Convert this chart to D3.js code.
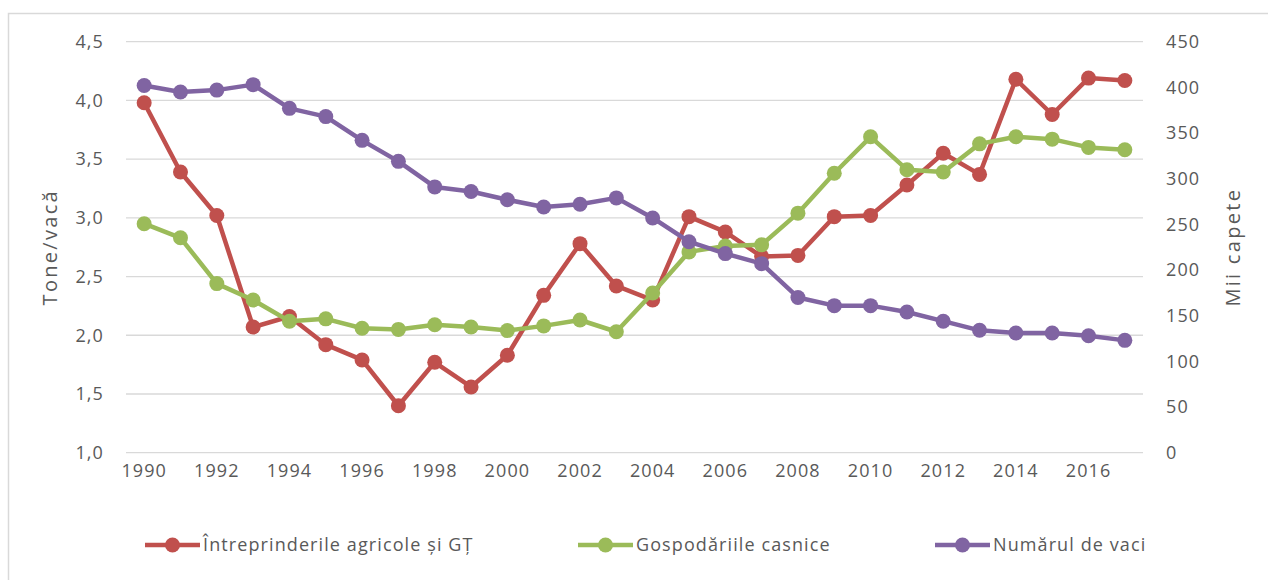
<!DOCTYPE html>
<html>
<head>
<meta charset="utf-8">
<script src="https://cdn.jsdelivr.net/npm/d3@7"></script>
<style>
  body { margin: 0; background: #fff; }
  text { font-family: "Open Sans", sans-serif; fill: #595959; }
</style>
</head>
<body>
<div id="viz"></div>
<script>
const years = d3.range(1990, 2018)
const xTickYears = d3.range(1990, 2017, 2)
const leftTicks = [1, 1.5, 2, 2.5, 3, 3.5, 4, 4.5]
const rightTicks = [0, 50, 100, 150, 200, 250, 300, 350, 400, 450]

// tone/vaca
const intreprinderi = [3.98, 3.39, 3.02, 2.07, 2.16, 1.92, 1.79, 1.40, 1.77, 1.56,
  1.83, 2.34, 2.78, 2.42, 2.30, 3.01, 2.88, 2.67, 2.68, 3.01,
  3.02, 3.28, 3.55, 3.37, 4.18, 3.88, 4.19, 4.17]
const gospodarii = [2.95, 2.83, 2.44, 2.30, 2.12, 2.14, 2.06, 2.05, 2.09, 2.07,
  2.04, 2.08, 2.13, 2.03, 2.36, 2.71, 2.76, 2.77, 3.04, 3.38,
  3.69, 3.41, 3.39, 3.63, 3.69, 3.67, 3.60, 3.58]
// mii capete
const vaci = [402, 395, 397, 403, 377, 368, 342, 319, 291, 286,
  277, 269, 272, 279, 257, 231, 218, 207, 170, 161,
  161, 154, 144, 134, 131, 131, 128, 123]

const seriesNames = ["Întreprinderile agricole și GȚ", "Gospodăriile casnice", "Numărul de vaci"]
const colors = ["#c0504d", "#9bbb59", "#8064a2"]

const width = 1268
const height = 580
const plotLeft = 126, plotRight = 1143, plotTop = 41.7, plotBottom = 452.7

const svg = d3.select("#viz").append("svg")
  .attr("width", width)
  .attr("height", height)

// chart frame
svg.append("rect")
  .attr("x", 8.5).attr("y", 13.5)
  .attr("width", 1300).attr("height", 600)
  .attr("fill", "none")
  .attr("stroke", "#d9d9d9")
  .attr("stroke-width", 1.5)

const xScale = d3.scaleBand().domain(years).range([plotLeft, plotRight])
const xPos = d => xScale(d) + xScale.bandwidth() / 2
const yLeft = d3.scaleLinear().domain([1, 4.5]).range([plotBottom, plotTop])
const yRight = d3.scaleLinear().domain([0, 450]).range([plotBottom, plotTop])

const fmtLeft = d => d3.format(".1f")(d).replace(".", ",")

function styleTicks(axisG) {
  axisG.select(".domain").remove()
  axisG.selectAll("text")
    .style("font-size", "18px")
    .style("letter-spacing", "1.1px")
    .style("font-family", "Open Sans, sans-serif")
    .attr("fill", "#595959")
}

// gridlines
svg.append("g")
  .selectAll("line")
  .data(leftTicks)
  .enter().append("line")
  .attr("x1", plotLeft).attr("x2", plotRight)
  .attr("y1", d => yLeft(d)).attr("y2", d => yLeft(d))
  .attr("stroke", "#d9d9d9")
  .attr("stroke-width", 1.3)

// left axis
const leftAxis = svg.append("g")
  .attr("transform", "translate(" + plotLeft + ",0)")
  .call(d3.axisLeft(yLeft).tickValues(leftTicks).tickFormat(fmtLeft).tickSize(0).tickPadding(22))
styleTicks(leftAxis)

// right axis
const rightAxis = svg.append("g")
  .attr("transform", "translate(" + plotRight + ",0)")
  .call(d3.axisRight(yRight).tickValues(rightTicks).tickSize(0).tickPadding(23))
styleTicks(rightAxis)

// x axis
const xAxis = svg.append("g")
  .attr("transform", "translate(0," + plotBottom + ")")
  .call(d3.axisBottom(xScale).tickValues(xTickYears).tickSize(0).tickPadding(12))
styleTicks(xAxis)

// axis titles
svg.append("text")
  .attr("transform", "translate(57," + ((plotTop + plotBottom) / 2) + ") rotate(-90)")
  .attr("text-anchor", "middle")
  .style("font-size", "20px")
  .style("letter-spacing", "2.3px")
  .text("Tone/vacă")

svg.append("text")
  .attr("transform", "translate(1240," + ((plotTop + plotBottom) / 2) + ") rotate(-90)")
  .attr("text-anchor", "middle")
  .style("font-size", "20px")
  .style("letter-spacing", "2.3px")
  .text("Mii capete")

// series
const series = [
  {values: intreprinderi, y: yLeft},
  {values: gospodarii, y: yLeft},
  {values: vaci, y: yRight}
]

series.forEach((s, i) => {
  const line = d3.line()
    .x((d, j) => xPos(years[j]))
    .y(d => s.y(d))
  const g = svg.append("g")
  g.append("path")
    .datum(s.values)
    .attr("d", line)
    .attr("fill", "none")
    .attr("stroke", colors[i])
    .attr("stroke-width", 4.5)
    .attr("stroke-linejoin", "round")
  g.selectAll("circle")
    .data(s.values)
    .enter().append("circle")
    .attr("cx", (d, j) => xPos(years[j]))
    .attr("cy", d => s.y(d))
    .attr("r", 7.5)
    .attr("fill", colors[i])
})

// legend
const legendX = [145, 578, 935]
const legend = svg.append("g")
  .selectAll("g")
  .data(seriesNames)
  .enter().append("g")
  .attr("transform", (d, i) => "translate(" + legendX[i] + ",545)")
legend.append("line")
  .attr("x1", 0).attr("x2", 55)
  .attr("stroke", (d, i) => colors[i])
  .attr("stroke-width", 4.5)
legend.append("circle")
  .attr("cx", 27.5).attr("r", 7.5)
  .attr("fill", (d, i) => colors[i])
legend.append("text")
  .attr("x", 58)
  .attr("dy", "0.35em")
  .style("font-size", "18px")
  .style("letter-spacing", "1.1px")
  .text(d => d)
</script>
</body>
</html>
